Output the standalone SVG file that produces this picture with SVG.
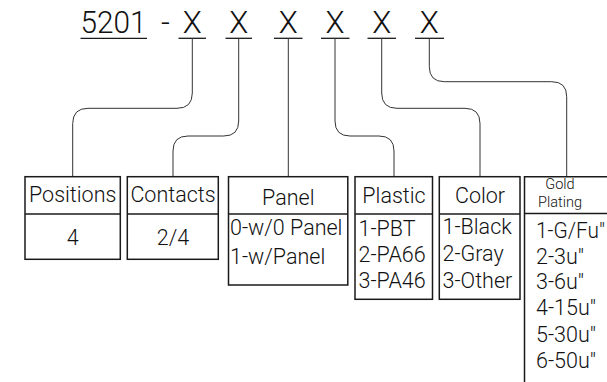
<svg xmlns="http://www.w3.org/2000/svg" width="607" height="382" viewBox="0 0 607 382">
<style>
.t{font-family:Roboto,"Liberation Sans",Arial,sans-serif;font-weight:300;fill:#111}
.h{font-size:31px}
.b{font-size:21.5px}
.s{font-size:14.5px}
.m{text-anchor:middle}
.box{fill:none;stroke:#1a1a1a;stroke-width:1.5}
.ul{stroke:#1a1a1a;stroke-width:1.3}
.c{fill:none;stroke:#333;stroke-width:1}
</style>
<rect width="607" height="382" fill="#fff"/>
<g id="code">
<text class="t h" x="80.5" y="33.3" textLength="66" lengthAdjust="spacingAndGlyphs">5201</text>
<line class="ul" x1="80.5" y1="38.3" x2="147" y2="38.3"/>
<text class="t h" x="161" y="33.3">-</text>
<text class="t h m" x="192.3" y="33.3">X</text>
<text class="t h m" x="238.7" y="33.3">X</text>
<text class="t h m" x="288.3" y="33.3">X</text>
<text class="t h m" x="335" y="33.3">X</text>
<text class="t h m" x="381.7" y="33.3">X</text>
<text class="t h m" x="429.3" y="33.3">X</text>
<line class="ul" x1="178.5" y1="38.3" x2="206" y2="38.3"/>
<line class="ul" x1="225.5" y1="38.3" x2="252" y2="38.3"/>
<line class="ul" x1="274" y1="38.3" x2="302.5" y2="38.3"/>
<line class="ul" x1="321" y1="38.3" x2="349.5" y2="38.3"/>
<line class="ul" x1="367.5" y1="38.3" x2="396" y2="38.3"/>
<line class="ul" x1="415" y1="38.3" x2="444" y2="38.3"/>
</g>
<g id="connectors">
<path class="c" d="M192.3,38.3 V93 Q192.3,108.3 177,108.3 H88 Q72.7,108.3 72.7,123.6 V176.7"/>
<path class="c" d="M238.7,38.3 V121 Q238.7,136 223.7,136 H188 Q173,136 173,151 V176.7"/>
<path class="c" d="M288.3,38.3 V176.7"/>
<path class="c" d="M335,38.3 V121 Q335,136 350,136 H379 Q394,136 394,151 V176.7"/>
<path class="c" d="M381.7,38.3 V93 Q381.7,108.3 397,108.3 H465 Q480,108.3 480,123.6 V176.7"/>
<path class="c" d="M429.3,38.3 V66.7 Q429.3,81.7 444.3,81.7 H551.7 Q566.7,81.7 566.7,96.7 V176.7"/>
</g>
<g id="positions">
<rect class="box" x="25" y="176.7" width="95.3" height="82.6"/>
<line class="box" x1="25" y1="214" x2="120.3" y2="214"/>
<text class="t b m" x="72.7" y="201.7">Positions</text>
<text class="t b m" x="72.7" y="245">4</text>
</g>
<g id="contacts">
<rect class="box" x="127.3" y="176.7" width="91" height="82.6"/>
<line class="box" x1="127.3" y1="214" x2="218.3" y2="214"/>
<text class="t b m" x="173" y="201.7">Contacts</text>
<text class="t b m" x="173" y="245">2/4</text>
</g>
<g id="panel">
<rect class="box" x="228.5" y="176.7" width="119.3" height="108.3"/>
<line class="box" x1="228.5" y1="214" x2="347.8" y2="214"/>
<text class="t b m" x="288.3" y="205">Panel</text>
<text class="t b" x="230" y="235">0-w/0 Panel</text>
<text class="t b" x="230" y="264">1-w/Panel</text>
</g>
<g id="plastic">
<rect class="box" x="355" y="176.7" width="77.5" height="122.6"/>
<line class="box" x1="355" y1="214" x2="432.5" y2="214"/>
<text class="t b m" x="394" y="202.7">Plastic</text>
<text class="t b" x="358.5" y="236">1-PBT</text>
<text class="t b" x="358.5" y="262">2-PA66</text>
<text class="t b" x="358.5" y="288.3">3-PA46</text>
</g>
<g id="color">
<rect class="box" x="439.3" y="176.7" width="80.7" height="122.6"/>
<line class="box" x1="439.3" y1="214" x2="520" y2="214"/>
<text class="t b m" x="480" y="202.7">Color</text>
<text class="t b" x="442.5" y="233.5">1-Black</text>
<text class="t b" x="442.5" y="260.5">2-Gray</text>
<text class="t b" x="442.5" y="288.3">3-Other</text>
</g>
<g id="gold-plating">
<path class="box" d="M610,176.7 H524.5 V382"/>
<line class="box" x1="524.5" y1="213.5" x2="610" y2="213.5"/>
<text class="t s m" x="560" y="189.3">Gold</text>
<text class="t s m" x="560" y="207.3">Plating</text>
<text class="t b" x="536" y="238.3" textLength="69" lengthAdjust="spacingAndGlyphs">1-G/Fu"</text>
<text class="t b" x="536" y="263.5">2-3u"</text>
<text class="t b" x="536" y="289.3">3-6u"</text>
<text class="t b" x="536" y="315.3">4-15u"</text>
<text class="t b" x="536" y="341.7">5-30u"</text>
<text class="t b" x="536" y="368.3">6-50u"</text>
</g>
</svg>
